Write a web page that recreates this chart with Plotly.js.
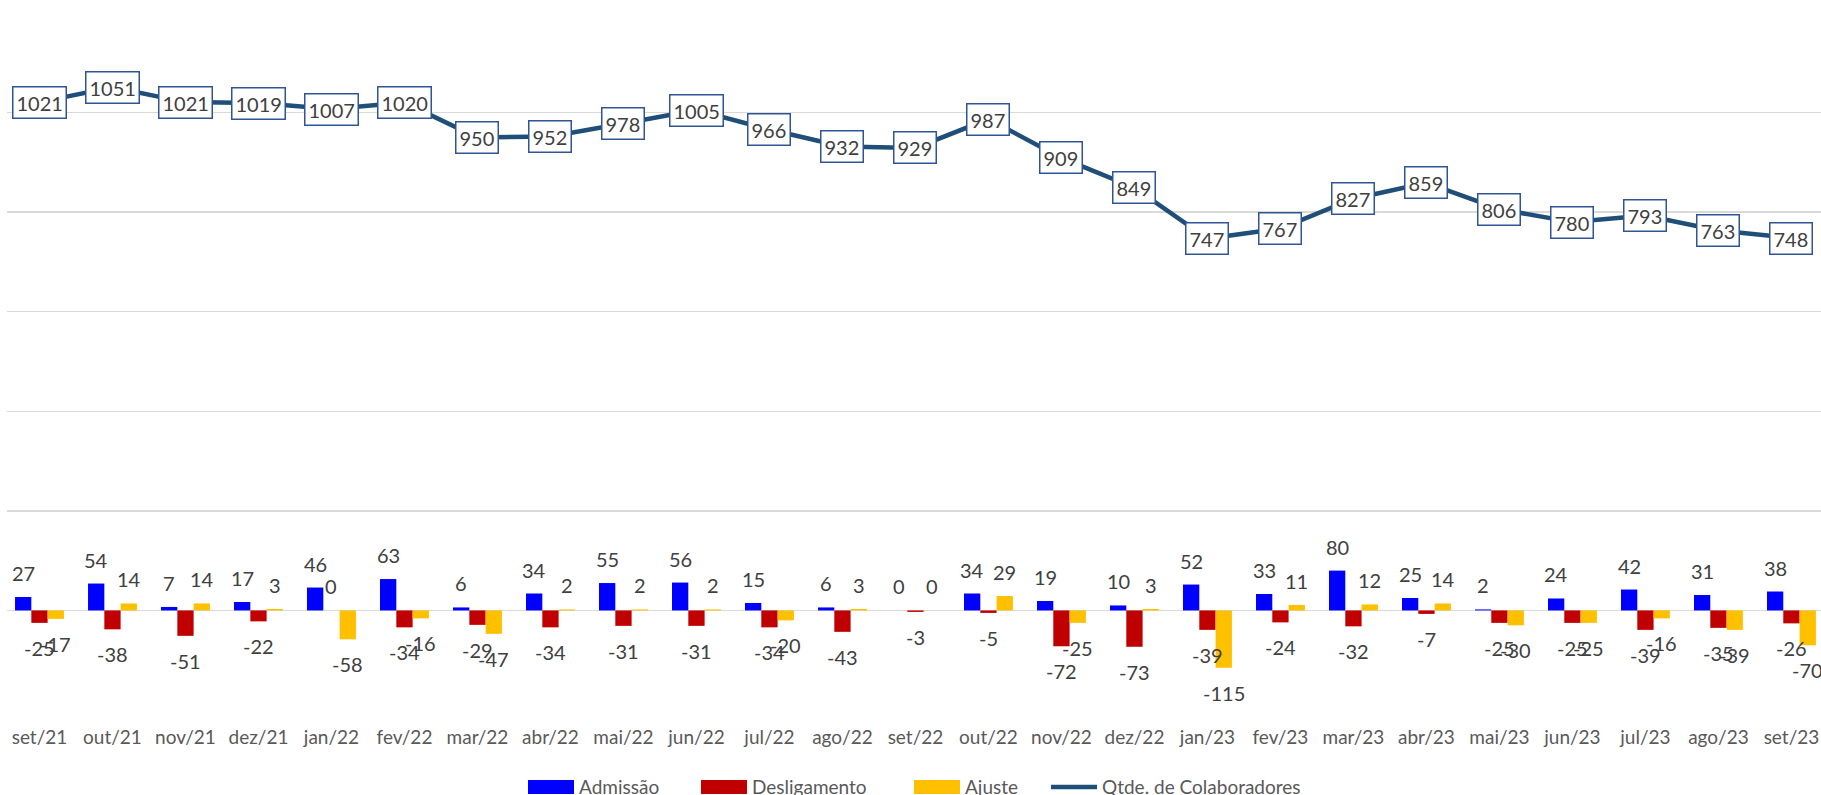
<!DOCTYPE html>
<html>
<head>
<meta charset="utf-8">
<script src="https://cdn.plot.ly/plotly-3.0.1.min.js"></script>
<style>html,body{margin:0;padding:0;background:#fff;}#chart{width:1821px;height:795px;}</style>
</head>
<body>
<div id="chart"></div>
<script>
const categories = ["set/21","out/21","nov/21","dez/21","jan/22","fev/22","mar/22","abr/22","mai/22","jun/22","jul/22","ago/22","set/22","out/22","nov/22","dez/22","jan/23","fev/23","mar/23","abr/23","mai/23","jun/23","jul/23","ago/23","set/23"];
const admissao = [27,54,7,17,46,63,6,34,55,56,15,6,0,34,19,10,52,33,80,25,2,24,42,31,38];
const desligamento = [-25,-38,-51,-22,0,-34,-29,-34,-31,-31,-34,-43,-3,-5,-72,-73,-39,-24,-32,-7,-25,-25,-39,-35,-26];
const ajuste = [-17,14,14,3,-58,-16,-47,2,2,2,-20,3,0,29,-25,3,-115,11,12,14,-30,-25,-16,-39,-70];
const colaboradores = [1021,1051,1021,1019,1007,1020,950,952,978,1005,966,932,929,987,909,849,747,767,827,859,806,780,793,763,748];

const FONT = "Lato, 'Open Sans', sans-serif";
const idx = categories.map((_, i) => i);
const bargap = 0.33;
const bw = (1 - bargap) / 3;

const barSeries = [
  {name: "Admissão", y: admissao, color: "#0000FF"},
  {name: "Desligamento", y: desligamento, color: "#C00000"},
  {name: "Ajuste", y: ajuste, color: "#FFC000"}
];

const traces = barSeries.map(s => ({
  type: "bar", x: idx, y: s.y, name: s.name,
  marker: {color: s.color}, showlegend: false, hoverinfo: "x+y"
}));
traces.push({
  type: "scatter", mode: "lines", x: idx, y: colaboradores, name: "Qtde. de Colaboradores",
  line: {color: "#1F4E79", width: 4.5}, showlegend: false
});

const annotations = [];
barSeries.forEach((s, k) => {
  const off = (k - 1) * bw;
  s.y.forEach((v, i) => {
    annotations.push({
      x: i + off, y: v, xref: "x", yref: "y", text: String(v), showarrow: false,
      yshift: v >= 0 ? 24 : -25, font: {family: FONT, size: 20, color: "#404040"}
    });
  });
});
colaboradores.forEach((v, i) => {
  annotations.push({
    x: i, y: v, xref: "x", yref: "y", text: String(v), showarrow: false,
    bgcolor: "#FFFFFF", bordercolor: "#2F5597", borderwidth: 1.5, borderpad: 3,
    font: {family: FONT, size: 20, color: "#404040"}
  });
});

// custom legend (paper coordinates)
const legendItems = [
  {name: "Admissão", color: "#0000FF", kind: "rect", x0: 528},
  {name: "Desligamento", color: "#C00000", kind: "rect", x0: 701},
  {name: "Ajuste", color: "#FFC000", kind: "rect", x0: 914},
  {name: "Qtde. de Colaboradores", color: "#1F4E79", kind: "line", x0: 1051}
];
const L = 7, R = 0, T = 13, B = 85;
const W = 1821, H = 795;
const pw = W - L - R, ph = H - T - B;
const px2x = p => (p - L) / pw;
const py2y = p => (H - B - p) / ph;
const shapes = [];
const legY = 787;
legendItems.forEach(it => {
  if (it.kind === "rect") {
    shapes.push({type: "rect", xref: "paper", yref: "paper",
      x0: px2x(it.x0), x1: px2x(it.x0 + 46), y0: py2y(legY + 7), y1: py2y(legY - 7),
      fillcolor: it.color, line: {width: 0}});
  } else {
    shapes.push({type: "line", xref: "paper", yref: "paper",
      x0: px2x(it.x0), x1: px2x(it.x0 + 46), y0: py2y(legY), y1: py2y(legY),
      line: {color: it.color, width: 4.5}});
  }
  annotations.push({xref: "paper", yref: "paper", x: px2x(it.x0 + 49), y: py2y(legY),
    xanchor: "left", yanchor: "middle", text: it.name, showarrow: false,
    font: {family: FONT, size: 19, color: "#595959"}});
});

const layout = {
  width: W, height: H,
  margin: {l: L, r: R, t: T, b: B},
  paper_bgcolor: "#FFFFFF", plot_bgcolor: "#FFFFFF",
  barmode: "group", bargap: bargap, bargroupgap: 0,
  showlegend: false,
  font: {family: FONT, color: "#595959"},
  xaxis: {
    range: [-0.445, 24.405], tickmode: "array", tickvals: idx, ticktext: categories,
    showgrid: false, zeroline: false, showline: false, ticks: "",
    tickfont: {family: FONT, size: 19, color: "#595959"}, ticklabelstandoff: 14
  },
  yaxis: {
    range: [-200, 1200], dtick: 200, tick0: 0, showticklabels: false,
    showgrid: true, gridcolor: "#D9D9D9", gridwidth: 1.5, zeroline: false, ticks: ""
  },
  annotations: annotations,
  shapes: shapes
};

Plotly.newPlot("chart", traces, layout, {displayModeBar: false, staticPlot: true});
</script>
</body>
</html>
